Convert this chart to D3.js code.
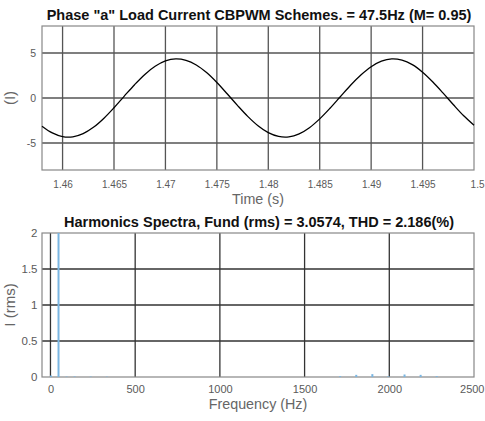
<!DOCTYPE html>
<html><head><meta charset="utf-8">
<script src="https://cdn.jsdelivr.net/npm/d3@7"></script>
<style>
body{margin:0;background:#fff;}
svg{display:block;font-family:"Liberation Sans",Arial,sans-serif;}
</style></head><body>
<svg id="c" width="485" height="421"></svg>
<script>
// ---- top chart data (time in s, current in A) ----
const timeStart = 1.458, timeStep = 0.001;
const currentValues = [-3.13,-3.88,-4.29,-4.31,-3.96,-3.26,-2.27,-1.08,0.21,1.48,
  2.62,3.52,4.12,4.35,4.19,3.67,2.82,1.72,0.47,-0.82,
  -2.04,-3.08,-3.85,-4.27,-4.32,-3.99,-3.30,-2.32,-1.14,0.14,
  1.42,2.56,3.48,4.10,4.35,4.21,3.71,2.87,1.78,0.54,
  -0.75,-1.98,-3.03];
const timeTicks = [1.46,1.465,1.47,1.475,1.48,1.485,1.49,1.495,1.5];
const timeTickLabels = ["1.46","1.465","1.47","1.475","1.48","1.485","1.49","1.495","1.5"];
const currentTicks = [-5,0,5];

// ---- bottom chart data (harmonic spectrum) ----
const harmFreq = [3, 47.5, 95, 142.5, 237.5, 332.5, 1710, 1805, 1900, 1995, 2090, 2185, 2280];
const harmRms  = [0.02, 3.0574, 0.006, 0.008, 0.006, 0.005, 0.012, 0.03, 0.04, 0.01, 0.035, 0.03, 0.012];
const freqTicks = [0,500,1000,1500,2000,2500];
const rmsTicks = [0,0.5,1,1.5,2];
const rmsTickLabels = ["0","0.5","1","1.5","2"];

const svg = d3.select("#c");
const L = 42, R = 474;
const boxCol = "#888", tickCol = "#5a5a5a";

function frame(o){
  const {yTop,yBot,x,y,xt,xl,yt,yl,title,xlabel,ylabel,ylabelX,xlabY,titleY,gridCol,xFont,yFont,xPad,yPad} = o;
  const g = svg.append("g");
  g.selectAll(".gx").data(xt.filter(v=>x(v)>L+1 && x(v)<R-1)).join("line")
    .attr("x1",d=>x(d)).attr("x2",d=>x(d)).attr("y1",yTop).attr("y2",yBot)
    .attr("stroke",gridCol).attr("stroke-width",1.3);
  g.selectAll(".gy").data(yt.filter(v=>y(v)>yTop+1 && y(v)<yBot-1)).join("line")
    .attr("x1",L).attr("x2",R).attr("y1",d=>y(d)).attr("y2",d=>y(d))
    .attr("stroke",gridCol).attr("stroke-width",1.3);
  const xa = d3.axisBottom(x).tickValues(xt).tickSize(0).tickPadding(xPad).tickFormat((d,i)=>xl[i]);
  const ya = d3.axisLeft(y).tickValues(yt).tickSize(0).tickPadding(yPad).tickFormat((d,i)=>yl[i]);
  const gx = g.append("g").attr("transform",`translate(0,${yBot})`).call(xa);
  const gy = g.append("g").attr("transform",`translate(${L},0)`).call(ya);
  [[gx,xFont],[gy,yFont]].forEach(([a,f])=>{a.select(".domain").remove();
    a.selectAll("text").attr("fill",tickCol).style("font-size",f+"px").style("font-family","'Liberation Sans',Arial,sans-serif");});
  // keep the right-most x label inside the page
  gx.selectAll(".tick text").filter((d,i,n)=>i===n.length-1)
    .attr("text-anchor","end").attr("x",484-R);
  g.append("rect").attr("x",L).attr("y",yTop).attr("width",R-L).attr("height",yBot-yTop)
    .attr("fill","none").attr("stroke",boxCol).attr("stroke-width",1.2);
  g.append("text").attr("x",(L+R)/2 + 1).attr("y",titleY).attr("text-anchor","middle")
    .attr("font-weight","bold").attr("font-size","14.5px").attr("fill","#111").text(title);
  g.append("text").attr("x",(L+R)/2).attr("y",xlabY).attr("text-anchor","middle")
    .attr("font-size","14.3px").attr("fill","#666").text(xlabel);
  g.append("text").attr("transform",`translate(${ylabelX},${(yTop+yBot)/2}) rotate(-90)`)
    .attr("text-anchor","middle").attr("font-size","15px").attr("fill","#666").text(ylabel);
  return g;
}

// ---- top chart ----
const xT = d3.scaleLinear().domain([1.458,1.5]).range([L,R]);
const yT = d3.scaleLinear().domain([-8,8]).range([170,26]);
frame({yTop:26,yBot:170,x:xT,y:yT,xt:timeTicks,xl:timeTickLabels,yt:currentTicks,yl:currentTicks.map(String),
  title:'Phase "a" Load Current CBPWM Schemes. = 47.5Hz (M= 0.95)',xlabel:'Time (s)',ylabel:'(I)',
  ylabelX:15,xlabY:203.5,titleY:20,gridCol:"#555",xFont:10,yFont:10.5,xPad:11,yPad:6});
const pts = currentValues.map((v,i)=>[timeStart+i*timeStep, v]);
svg.append("path").datum(pts)
  .attr("d", d3.line().x(d=>xT(d[0])).y(d=>yT(d[1])).curve(d3.curveCatmullRom))
  .attr("fill","none").attr("stroke","#000").attr("stroke-width",1.3);

// ---- bottom chart ----
const xB = d3.scaleLinear().domain([-50,2500]).range([L,R]);
const yB = d3.scaleLinear().domain([0,2]).range([377,233]);
frame({yTop:233,yBot:377,x:xB,y:yB,xt:freqTicks,xl:freqTicks.map(String),yt:rmsTicks,yl:rmsTickLabels,
  title:'Harmonics Spectra, Fund (rms) = 3.0574, THD = 2.186(%)',xlabel:'Frequency (Hz)',ylabel:'I (rms)',
  ylabelX:15,xlabY:409,titleY:227,gridCol:"#333",xFont:11,yFont:11.5,xPad:8.5,yPad:4.5});
svg.append("g").selectAll("line").data(harmFreq.map((f,i)=>[f,harmRms[i]])).join("line")
  .attr("x1",d=>xB(d[0])).attr("x2",d=>xB(d[0]))
  .attr("y1",yB(0)).attr("y2",d=>yB(Math.min(d[1],2)))
  .attr("stroke","#7ab6e2").attr("stroke-width",2);
</script>
</body></html>
